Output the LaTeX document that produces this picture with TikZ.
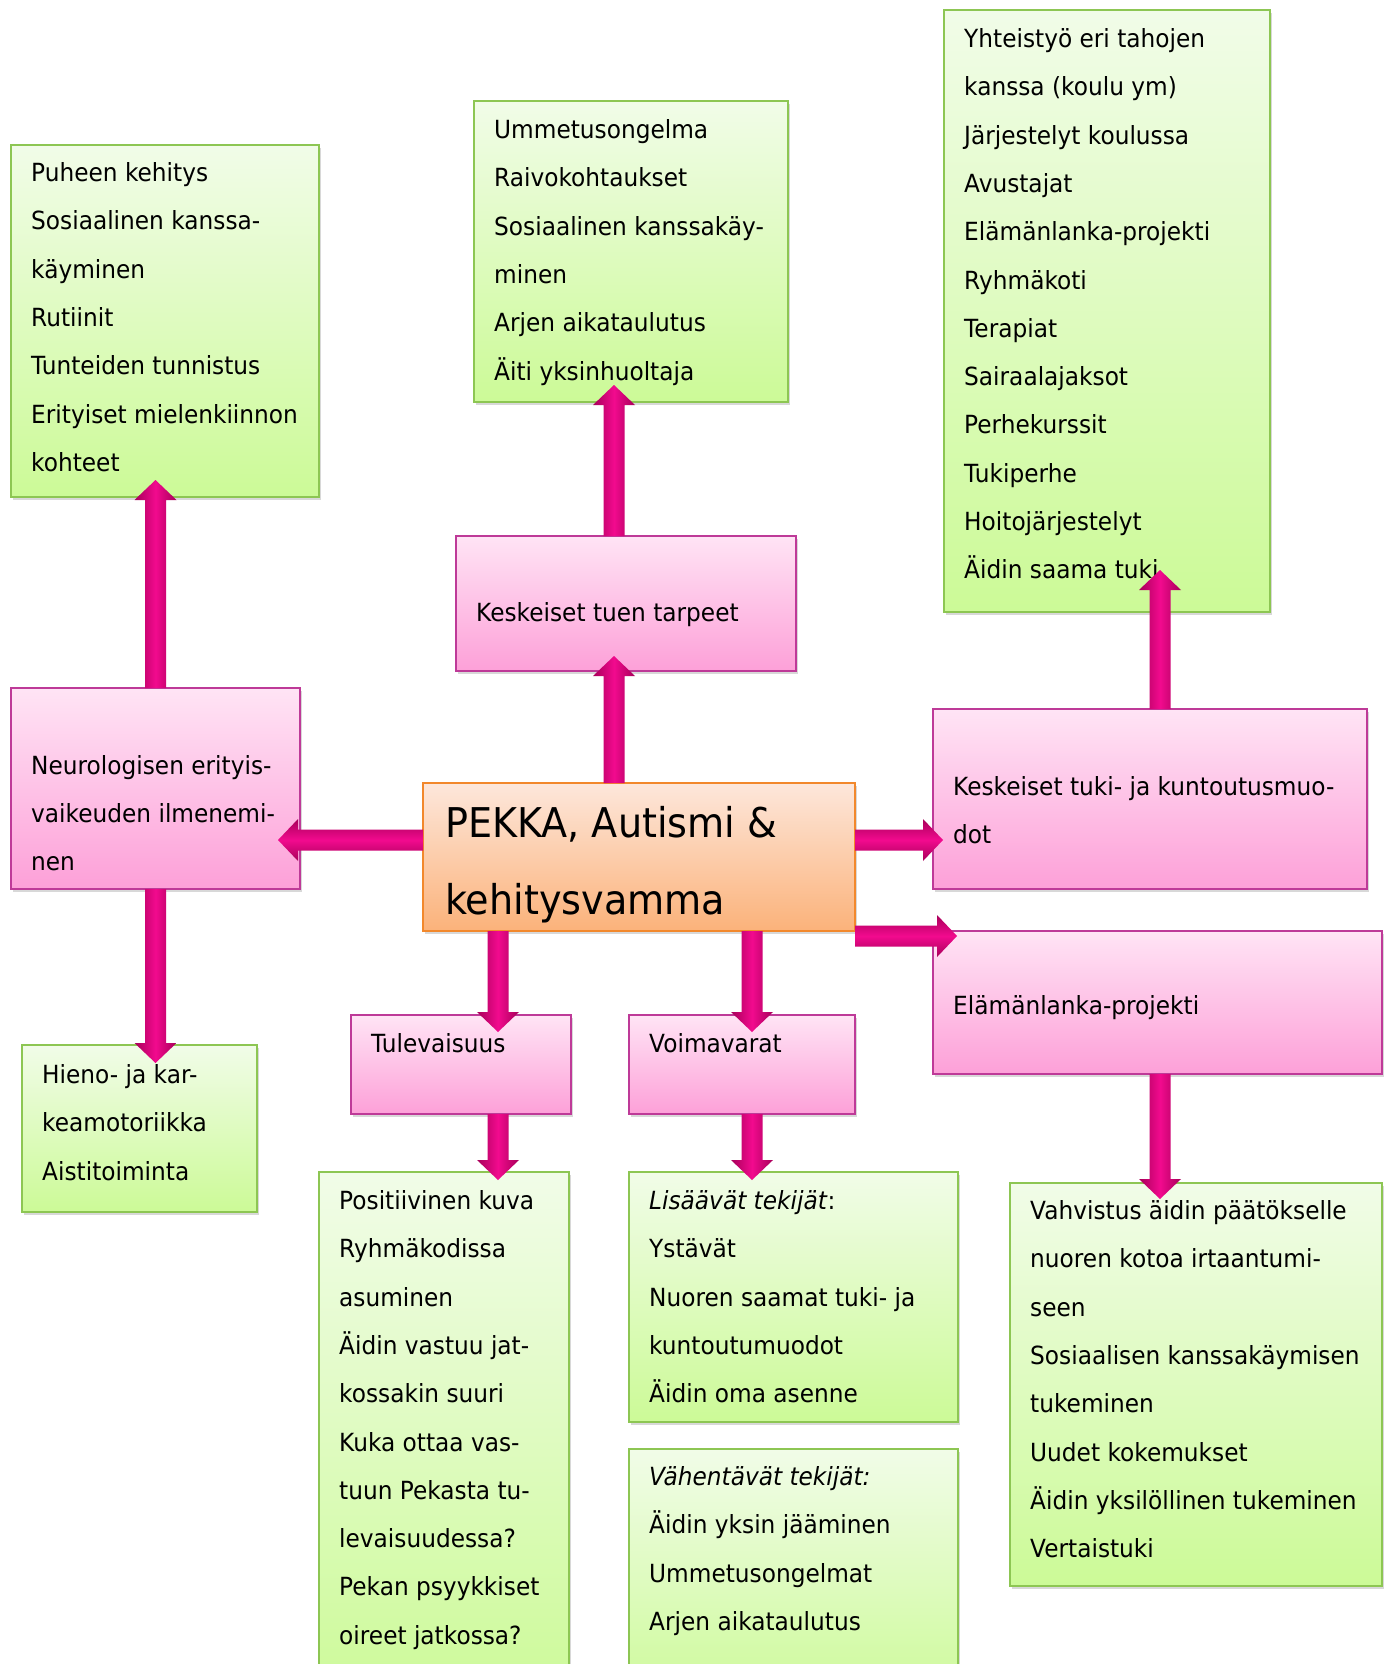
\documentclass[tikz,border=0pt]{standalone}
\usepackage{fontspec}
\newfontfamily\bodyfont{DejaVu Sans}[FakeStretch=0.93]
\usetikzlibrary{calc,shadows}
\definecolor{grntop}{HTML}{F1FCE8}
\definecolor{grnbot}{HTML}{CCFA97}
\definecolor{grnline}{HTML}{8DC653}
\definecolor{pnktop}{HTML}{FFE4F5}
\definecolor{pnkbot}{HTML}{FDA0D8}
\definecolor{pnkline}{HTML}{BE3A98}
\definecolor{orgtop}{HTML}{FDE7DB}
\definecolor{orgbot}{HTML}{FBB27A}
\definecolor{orgline}{HTML}{F2882C}
\definecolor{arrdark}{HTML}{A8005A}
\definecolor{arrmid}{HTML}{F20A8E}
\tikzset{
  box/.style={draw, line width=1.4pt, anchor=north west, inner sep=0pt, outer sep=0pt,
    drop shadow={opacity=0.30, shadow xshift=2pt, shadow yshift=-3pt}},
  greenbox/.style={box, draw=grnline, top color=grntop, bottom color=grnbot},
  pinkbox/.style={box, draw=pnkline, top color=pnktop, bottom color=pnkbot},
  orangebox/.style={box, draw=orgline, top color=orgtop, bottom color=orgbot},
  txt/.style={anchor=base west, inner sep=0pt, font=\bodyfont\fontsize{25}{30}\selectfont},
  bigtxt/.style={anchor=base west, inner sep=0pt, font=\bodyfont\fontsize{41}{50}\selectfont},
  varrow/.style={left color=arrdark, right color=arrdark, middle color=arrmid},
  harrow/.style={top color=arrdark, bottom color=arrdark, middle color=arrmid},
}
\newcommand\boxlines[3]{%
  \foreach \t [count=\i from 0] in {#3}
    \node[txt] (#1-t\i) at ($(#1.north west)+(20,#2+1.5+\i*48.3)$) {\t};}
\newcommand\barrow[3]{%
  \coordinate (hb) at ($(#3)!20pt!(#2)$);
  \shade[#1] ($(#2)!10.5pt!90:(#3)$) -- ($(hb)!10.5pt!90:(#3)$) -- ($(hb)!21pt!90:(#3)$)
    -- (#3) -- ($(hb)!21pt!-90:(#3)$) -- ($(hb)!10.5pt!-90:(#3)$)
    -- ($(#2)!10.5pt!-90:(#3)$) -- cycle;}
\begin{document}
\begin{tikzpicture}[x=1pt,y=-1pt]
\useasboundingbox (0,0) rectangle (1389,1664);
\fill[white] (0,0) rectangle (1389,1664);
\clip (0,0) rectangle (1389,1664);

% boxes
\node[greenbox, minimum width=308pt, minimum height=352pt] (A) at (11,145) {};
\node[greenbox, minimum width=314pt, minimum height=301pt] (B) at (474,101) {};
\node[greenbox, minimum width=326pt, minimum height=602pt] (C) at (944,10) {};
\node[pinkbox, minimum width=340pt, minimum height=135pt] (D) at (456,536) {};
\node[pinkbox, minimum width=289pt, minimum height=201pt] (E) at (11,688) {};
\node[orangebox, minimum width=432pt, minimum height=148pt] (F) at (423,783) {};
\node[pinkbox, minimum width=434pt, minimum height=180pt] (G) at (933,709) {};
\node[pinkbox, minimum width=449pt, minimum height=143pt] (H) at (933,931) {};
\node[pinkbox, minimum width=220pt, minimum height=99pt] (I) at (351,1015) {};
\node[pinkbox, minimum width=226pt, minimum height=99pt] (J) at (629,1015) {};
\node[greenbox, minimum width=235pt, minimum height=167pt] (K) at (22,1045) {};
\node[greenbox, minimum width=250pt, minimum height=540pt] (L) at (319,1172) {};
\node[greenbox, minimum width=329pt, minimum height=250pt] (M) at (629,1172) {};
\node[greenbox, minimum width=329pt, minimum height=260pt] (N) at (629,1449) {};
\node[greenbox, minimum width=372pt, minimum height=403pt] (O) at (1010,1183) {};

% texts
\boxlines{A}{35}{{Puheen kehitys},{Sosiaalinen kanssa-},{käyminen},{Rutiinit},{Tunteiden tunnistus},{Erityiset mielenkiinnon},{kohteet}}
\boxlines{B}{36}{{Ummetusongelma},{Raivokohtaukset},{Sosiaalinen kanssakäy-},{minen},{Arjen aikataulutus},{Äiti yksinhuoltaja}}
\boxlines{C}{36}{{Yhteistyö eri tahojen},{kanssa (koulu ym)},{Järjestelyt koulussa},{Avustajat},{Elämänlanka-projekti},{Ryhmäkoti},{Terapiat},{Sairaalajaksot},{Perhekurssit},{Tukiperhe},{Hoitojärjestelyt},{Äidin saama tuki}}
\boxlines{D}{84}{{Keskeiset tuen tarpeet}}
\boxlines{E}{84.5}{{Neurologisen erityis-},{vaikeuden ilmenemi-},{nen}}
\boxlines{G}{85}{{Keskeiset tuki- ja kuntoutusmuo-},{dot}}
\boxlines{H}{82}{{Elämänlanka-projekti}}
\boxlines{I}{35.5}{{Tulevaisuus}}
\boxlines{J}{35.5}{{Voimavarat}}
\boxlines{K}{37}{{Hieno- ja kar-},{keamotoriikka},{Aistitoiminta}}
\boxlines{L}{36}{{Positiivinen kuva},{Ryhmäkodissa},{asuminen},{Äidin vastuu jat-},{kossakin suuri},{Kuka ottaa vas-},{tuun Pekasta tu-},{levaisuudessa?},{Pekan psyykkiset},{oireet jatkossa?}}
\boxlines{M}{36}{{\textit{Lisäävät tekijät}:},{Ystävät},{Nuoren saamat tuki- ja},{kuntoutumuodot},{Äidin oma asenne}}
\boxlines{N}{35}{{\textit{Vähentävät tekijät:}},{Äidin yksin jääminen},{Ummetusongelmat},{Arjen aikataulutus}}
\boxlines{O}{35}{{Vahvistus äidin päätökselle},{nuoren kotoa irtaantumi-},{seen},{Sosiaalisen kanssakäymisen},{tukeminen},{Uudet kokemukset},{Äidin yksilöllinen tukeminen},{Vertaistuki}}
\node[bigtxt] (F-t0) at ($(F.north west)+(22,54)$) {PEKKA, Autismi \&};
\node[bigtxt] (F-t1) at ($(F.north west)+(22,131)$) {kehitysvamma};

% arrow end points
\coordinate (a1t) at (E.north);
\coordinate (a1h) at ($(E.north |- A.south)+(0,-17)$);
\coordinate (a2t) at ($(F.north west)+(191,0)$);
\coordinate (a2h) at ($(F.north west |- D.south)+(191,-15)$);
\coordinate (a3t) at ($(D.north west)+(158,0)$);
\coordinate (a3h) at ($(D.north west |- B.south)+(158,-17)$);
\coordinate (a4t) at ($(G.north west)+(227,0)$);
\coordinate (a4h) at ($(G.north west |- C.south)+(227,-42)$);
\coordinate (a5t) at ($(F.north west)+(0,57)$);
\coordinate (a5h) at ($(E.east |- F.north west)+(-22,57)$);
\coordinate (a6t) at ($(F.north east)+(0,57)$);
\coordinate (a6h) at ($(G.west |- F.north east)+(10,57)$);
\coordinate (a7t) at ($(F.south east)+(0,5)$);
\coordinate (a7h) at ($(H.north west)+(24,5)$);
\coordinate (a8t) at (E.south);
\coordinate (a8h) at ($(E.south |- K.north)+(0,18)$);
\coordinate (a9t) at ($(F.south west)+(75,0)$);
\coordinate (a9h) at ($(F.south west |- I.north)+(75,17)$);
\coordinate (a10t) at ($(F.south west)+(329,0)$);
\coordinate (a10h) at ($(F.south west |- J.north)+(329,17)$);
\coordinate (a11t) at ($(F.south west |- I.south)+(75,0)$);
\coordinate (a11h) at ($(F.south west |- L.north)+(75,8)$);
\coordinate (a12t) at ($(F.south west |- J.south)+(329,0)$);
\coordinate (a12h) at ($(F.south west |- M.north)+(329,8)$);
\coordinate (a13t) at ($(H.south west)+(227,0)$);
\coordinate (a13h) at ($(H.south west |- O.north)+(227,16)$);

% arrows
\barrow{varrow}{a1t}{a1h}
\barrow{varrow}{a2t}{a2h}
\barrow{varrow}{a3t}{a3h}
\barrow{varrow}{a4t}{a4h}
\barrow{harrow}{a5t}{a5h}
\barrow{harrow}{a6t}{a6h}
\barrow{harrow}{a7t}{a7h}
\barrow{varrow}{a8t}{a8h}
\barrow{varrow}{a9t}{a9h}
\barrow{varrow}{a10t}{a10h}
\barrow{varrow}{a11t}{a11h}
\barrow{varrow}{a12t}{a12h}
\barrow{varrow}{a13t}{a13h}
\end{tikzpicture}
\end{document}
